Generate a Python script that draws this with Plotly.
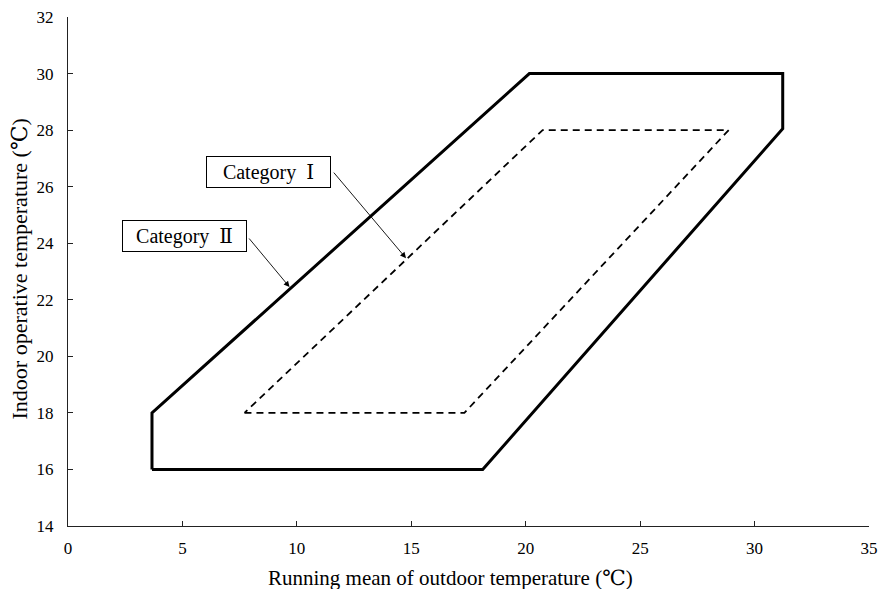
import plotly.graph_objects as go

# Comfort zone boundaries (running mean outdoor temp vs indoor operative temp)
cat2_x = [3.67, 3.67, 20.16, 31.23, 31.23, 18.12, 3.67]
cat2_y = [16.0, 18.0, 30.0, 30.0, 28.05, 16.0, 16.0]

cat1_x = [7.71, 17.32, 28.87, 20.74, 7.71]
cat1_y = [18.0, 18.0, 28.0, 28.0, 18.0]

x_ticks = [0, 5, 10, 15, 20, 25, 30, 35]
y_ticks = [14, 16, 18, 20, 22, 24, 26, 28, 30, 32]

x_title = "Running mean of outdoor temperature (℃)"
y_title = "Indoor operative temperature (℃)"

FONT = "Liberation Serif, DejaVu Serif, serif"

fig = go.Figure()
fig.add_trace(go.Scatter(x=cat2_x, y=cat2_y, mode="lines",
                         line=dict(color="black", width=3), showlegend=False,
                         hoverinfo="skip"))
fig.add_trace(go.Scatter(x=cat1_x, y=cat1_y, mode="lines",
                         line=dict(color="black", width=1.8, dash="7px,5px"),
                         showlegend=False, hoverinfo="skip"))

# Label boxes
labels = [
    dict(text="Category  Ⅰ", x=8.78, y=26.53),
    dict(text="Category  Ⅱ", x=5.09, y=24.25),
]
for lb in labels:
    fig.add_annotation(x=lb["x"], y=lb["y"], xref="x", yref="y",
                       text=lb["text"], showarrow=False,
                       font=dict(family=FONT, size=20, color="black"),
                       bordercolor="black", borderwidth=1, borderpad=0,
                       width=123, height=30, bgcolor="white")

# Leader arrows from boxes to the boundaries
arrows = [
    dict(tail=(11.56, 26.55), head=(14.77, 23.47)),
    dict(tail=(7.86, 24.22), head=(9.68, 22.45)),
]
for ar in arrows:
    fig.add_annotation(x=ar["head"][0], y=ar["head"][1], xref="x", yref="y",
                       ax=ar["tail"][0], ay=ar["tail"][1], axref="x", ayref="y",
                       text="", showarrow=True, arrowhead=2, arrowsize=1.3,
                       arrowwidth=0.9, arrowcolor="black", standoff=0)

# Axis titles
fig.add_annotation(text=x_title, xref="paper", yref="paper", x=0.477, y=0,
                   xanchor="center", yanchor="top", yshift=-38, showarrow=False,
                   font=dict(family=FONT, size=21, color="black"))
fig.add_annotation(text=y_title, xref="paper", yref="paper", x=0, y=0.505,
                   xanchor="right", yanchor="middle", xshift=-34, textangle=-90,
                   showarrow=False, font=dict(family=FONT, size=22, color="black"))

fig.update_layout(
    width=879, height=589,
    margin=dict(l=68, r=10, t=17, b=63),
    plot_bgcolor="white", paper_bgcolor="white",
    font=dict(family=FONT, color="black"),
    xaxis=dict(range=[0, 35], tickvals=x_ticks, showgrid=False, zeroline=False,
               showline=True, linecolor="#222", linewidth=1.2,
               ticks="inside", ticklen=5, tickcolor="#222", automargin=False,
               ticklabelstandoff=6,
               tickfont=dict(size=17, family=FONT)),
    yaxis=dict(range=[14, 32], tickvals=y_ticks, showgrid=False, zeroline=False,
               showline=True, linecolor="#222", linewidth=1.2,
               ticks="inside", ticklen=5, tickcolor="#222", automargin=False,
               ticklabelstandoff=10,
               tickfont=dict(size=17, family=FONT)),
)

fig.write_html("out.html")
